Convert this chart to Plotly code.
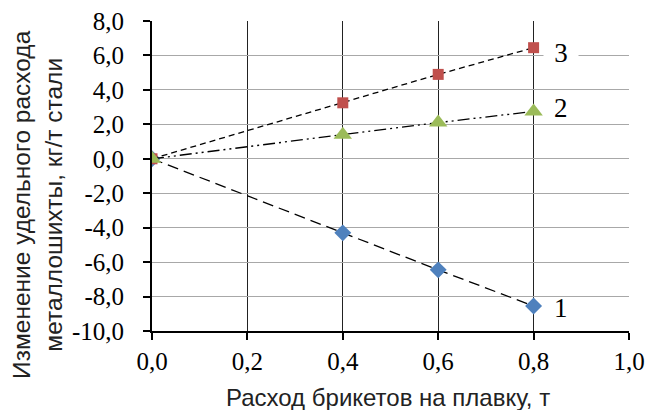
import plotly.graph_objects as go

x_vals = [0.0, 0.4, 0.6, 0.8]
series1 = [0.0, -4.3, -6.45, -8.55]
series2 = [0.0, 1.4, 2.1, 2.75]
series3 = [0.0, 3.25, 4.9, 6.45]
labels = ["1", "2", "3"]
x_tickvals = [0.0, 0.2, 0.4, 0.6, 0.8, 1.0]
x_ticktext = ["0,0", "0,2", "0,4", "0,6", "0,8", "1,0"]
y_tickvals = [-10, -8, -6, -4, -2, 0, 2, 4, 6, 8]
y_ticktext = ["-10,0", "-8,0", "-6,0", "-4,0", "-2,0", "0,0", "2,0", "4,0", "6,0", "8,0"]
x_title = "Расход брикетов на плавку, т"
y_title = "Изменение удельного расхода<br>металлошихты, кг/т стали"

SERIF = "Liberation Serif"
SANS = "Liberation Sans"

fig = go.Figure()
fig.add_trace(go.Scatter(x=x_vals, y=series1, mode="lines+markers",
                         line=dict(color="black", width=1.3, dash="11px,6px"),
                         marker=dict(symbol="diamond", size=13, color="#4f81bd")))
fig.add_trace(go.Scatter(x=x_vals, y=series3, mode="lines+markers",
                         line=dict(color="black", width=1.3, dash="6px,4px"),
                         marker=dict(symbol="square", size=11, color="#c0504d")))
fig.add_trace(go.Scatter(x=x_vals, y=series2, mode="lines+markers",
                         line=dict(color="black", width=1.3, dash="12px,4px,2px,4px,2px,4px"),
                         marker=dict(symbol="triangle-up", size=16, color="#9bbb59")))

shifts = {"1": -2, "2": 3, "3": -5}
for lab, ser in zip(labels, [series1, series2, series3]):
    fig.add_annotation(x=x_vals[-1], y=ser[-1], text=lab, showarrow=False,
                       xanchor="center", xshift=27, yshift=shifts[lab],
                       width=32 if lab == "3" else None,
                       font=dict(family=SERIF, size=27, color="black"),
                       bgcolor="white" if lab == "3" else None)

fig.add_annotation(xref="paper", yref="paper", x=0.5, y=-0.215, text=x_title,
                   showarrow=False, xanchor="center", yanchor="middle", xshift=-3,
                   font=dict(family=SANS, size=24, color="#222"))
fig.add_annotation(xref="paper", yref="paper", x=-0.239, y=0.41, text=y_title,
                   showarrow=False, xanchor="center", yanchor="middle", textangle=-90,
                   font=dict(family=SANS, size=24.5, color="#222"))

fig.update_layout(
    template="none",
    width=646, height=410,
    margin=dict(l=152, r=17, t=21, b=79, autoexpand=False),
    paper_bgcolor="white", plot_bgcolor="white",
    font=dict(family=SERIF, size=25, color="black"),
    showlegend=False,
    xaxis=dict(range=[0, 1.0], tickvals=x_tickvals, ticktext=x_ticktext,
               showgrid=True, gridcolor="#222", gridwidth=1,
               showline=True, linecolor="black", linewidth=2,
               ticks="outside", ticklen=7, tickcolor="black", tickwidth=1.5,
               zeroline=False, mirror=False, automargin=False,
               ticklabelstandoff=0,
               tickfont=dict(family=SERIF, size=25, color="black")),
    yaxis=dict(range=[-10, 8], tickvals=y_tickvals, ticktext=y_ticktext,
               showgrid=True, gridcolor="#a8a8a8", gridwidth=1,
               showline=True, linecolor="black", linewidth=2,
               ticks="outside", ticklen=7, tickcolor="black", tickwidth=1.5,
               zeroline=False, automargin=False,
               ticklabelstandoff=14,
               tickfont=dict(family=SERIF, size=25, color="black")),
)
fig.write_html("out.html", config={"displayModeBar": False},
               post_script="document.body.style.margin='0';")
